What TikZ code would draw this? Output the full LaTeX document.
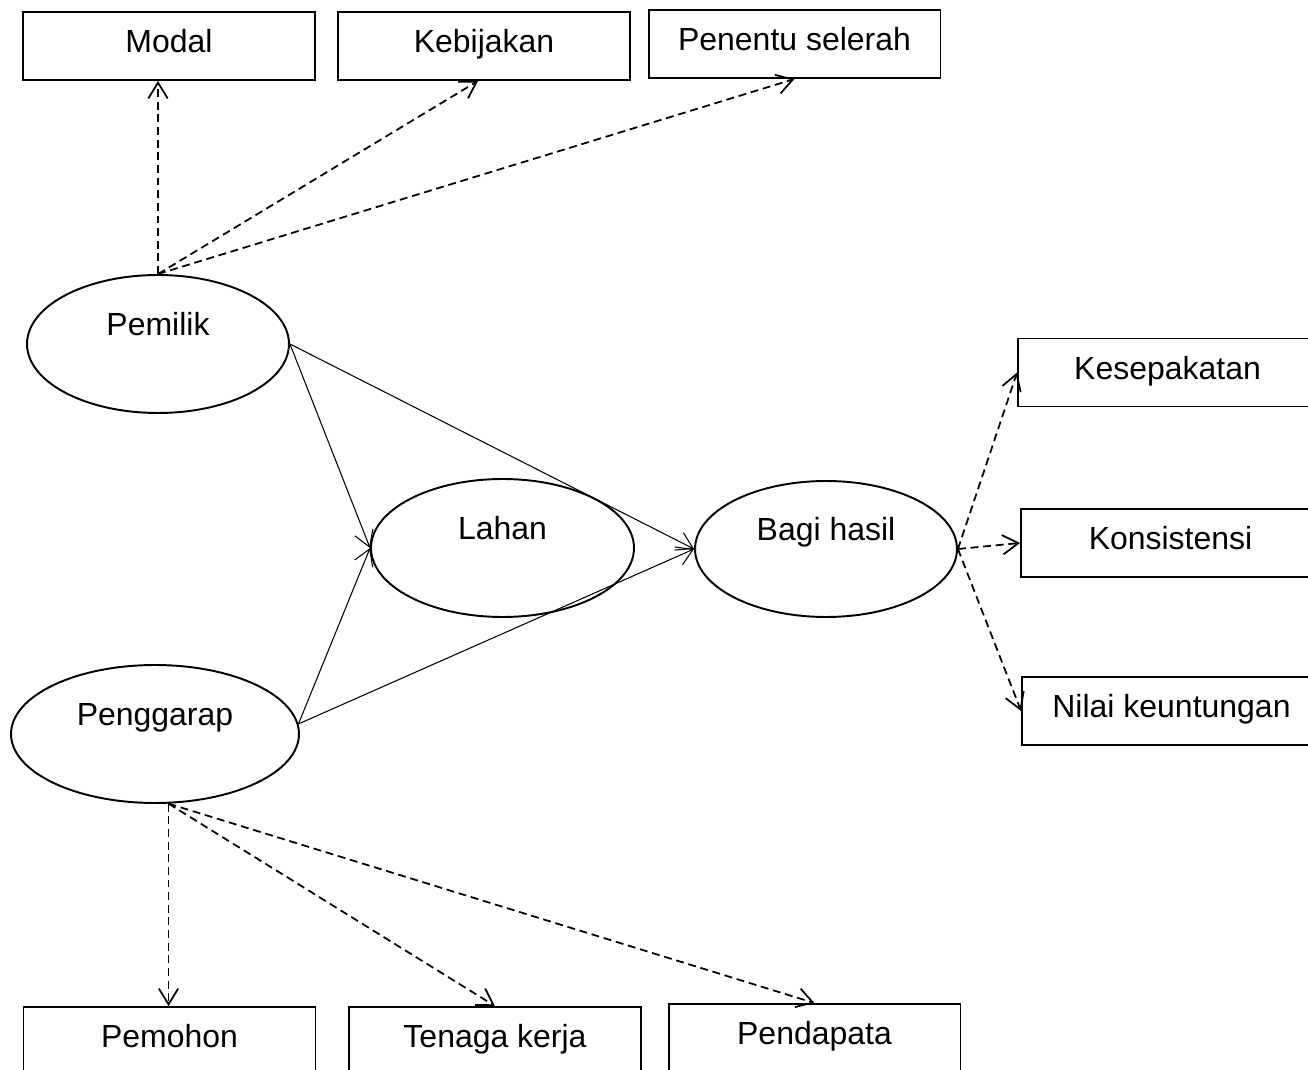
\documentclass[tikz,border=0pt]{standalone}
\usepackage{fontspec}
\setmainfont{Liberation Sans}
\usetikzlibrary{arrows.meta}
\usetikzlibrary{shapes.geometric}
\tikzset{box/.style = {draw, line width=1.1pt, minimum width=5.84cm, minimum height=1.36cm, inner sep=0, font=\fontsize{18.2}{22}\selectfont, text height=13pt, text depth=5.2pt}}
\tikzset{oval/.style = {draw, ellipse, line width=1.1pt, minimum width=5.24cm, minimum height=2.76cm, inner sep=0, font=\fontsize{18.2}{22}\selectfont, text height=13pt, text depth=22.2pt}}
\tikzset{dep/.style = {dash pattern=on 4.5pt off 2.7pt, line width=1pt, -{Straight Barb[length=9pt, width=11pt]}}}
\tikzset{link/.style = {line width=0.6pt, -{Straight Barb[length=9pt, width=11pt]}}}

\begin{document}
\begin{tikzpicture}[x=0.02cm, y=-0.02cm]
    \useasboundingbox (0, 0) rectangle (1308, 1070);

    \node [box] (modal) at (169, 46) {Modal};
    \node [box] (kebijakan) at (484, 46) {Kebijakan};
    \node [box] (penentu) at (794.5, 44) {Penentu selerah};

    \node [oval] (pemilik) at (158, 344) {Pemilik};
    \node [oval, minimum width=5.26cm] (lahan) at (502.5, 548) {Lahan};
    \node [oval, minimum height=2.72cm] (bagi) at (826, 549) {Bagi hasil};
    \node [oval, minimum width=5.76cm] (penggarap) at (155, 734) {Penggarap};

    \node [box, minimum width=5.98cm] (kesepakatan) at (1167.5, 372.5) {Kesepakatan};
    \node [box, minimum width=5.98cm] (konsistensi) at (1170.5, 543) {Konsistensi};
    \node [box, minimum width=5.98cm] (nilai) at (1171.5, 711) {Nilai keuntungan};

    \node [box] (pemohon) at (169.5, 1041) {Pemohon};
    \node [box] (tenaga) at (495, 1041) {Tenaga kerja};
    \node [box] (pendapata) at (814.5, 1038) {Pendapata};

    \draw [dep] (pemilik.north) -- (pemilik.north |- modal.south);
    \draw [dep] (pemilik.north) -- ([xshift=-0.12cm]kebijakan.south);
    \draw [dep] (pemilik.north) -- (penentu.south);

    \draw [link] (pemilik.east) -- (lahan.west);
    \draw [link] (pemilik.east) -- (bagi.west);
    \draw [link] (penggarap.4) -- (lahan.west);
    \draw [link] (penggarap.4) -- (bagi.west);

    \draw [dep] (bagi.east) -- (kesepakatan.west);
    \draw [dep] (bagi.east) -- (konsistensi.west);
    \draw [dep] (bagi.east) -- (nilai.west);

    \coordinate (pg) at (penggarap.-79);
    \draw [dep] (pg) -- (pg |- pemohon.north);
    \draw [dep] (pg) -- (tenaga.north);
    \draw [dep] (pg) -- (pendapata.north);
\end{tikzpicture}
\end{document}
